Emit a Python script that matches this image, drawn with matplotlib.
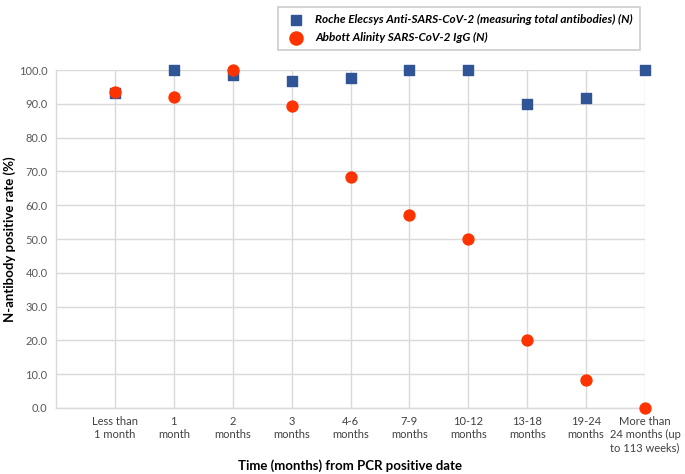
import matplotlib
matplotlib.use("Agg")
import matplotlib.pyplot as plt

categories = ["Less than\n1 month", "1\nmonth", "2\nmonths", "3\nmonths", "4-6\nmonths",
              "7-9\nmonths", "10-12\nmonths", "13-18\nmonths", "19-24\nmonths",
              "More than\n24 months (up\nto 113 weeks)"]
roche = [93.3, 100.0, 98.4, 96.6, 97.7, 100.0, 100.0, 90.0, 91.7, 100.0]
abbott = [93.5, 92.0, 100.0, 89.3, 68.2, 57.1, 50.0, 20.0, 8.3, 0.0]
yticks = [0, 10, 20, 30, 40, 50, 60, 70, 80, 90, 100]

plt.rcParams['font.family'] = ['Lato', 'DejaVu Sans']

W, H = 685, 474
fig = plt.figure(figsize=(W / 100, H / 100), dpi=100)
ax = fig.add_axes([56 / W, 1 - 408 / H, (645 - 56) / W, (408 - 70) / H])

x = list(range(1, len(categories) + 1))
ax.scatter(x, roche, marker='s', s=42, color='#2F5597', zorder=3, clip_on=False,
           label='Roche Elecsys Anti-SARS-CoV-2 (measuring total antibodies) (N)')
ax.scatter(x, abbott, marker='o', s=62, color='#FF3300', zorder=4, clip_on=False,
           label='Abbott Alinity SARS-CoV-2 IgG (N)')

ax.set_xlim(0, len(categories))
ax.set_ylim(0, 100)
ax.set_yticks(yticks)
ax.set_yticklabels([f"{v:.1f}" for v in yticks], color='#595959', fontsize=8)
ax.set_xticks(x)
ax.set_xticklabels(categories, color='#404040', fontsize=8)
ax.tick_params(axis='both', length=0, pad=6)
ax.grid(True, color='#D9D9D9', lw=1)
ax.set_axisbelow(True)
for s in ['top', 'right']:
    ax.spines[s].set_visible(False)
for s in ['left', 'bottom']:
    ax.spines[s].set_color('#D9D9D9')
    ax.spines[s].set_linewidth(1)

fig.text(10 / W, 1 - 239 / H, "N-antibody positive rate (%)", rotation=90,
         ha='center', va='center', fontsize=9.5, fontweight='bold')
fig.text(350 / W, 1 - 466 / H, "Time (months) from PCR positive date",
         ha='center', va='center', fontsize=9.5, fontweight='bold')

leg = fig.legend(loc='upper right', bbox_to_anchor=(646 / W, 1 - 1 / H),
                 prop={'style': 'italic', 'weight': 'bold', 'size': 8.5},
                 frameon=True, fancybox=False, edgecolor='#BFBFBF',
                 handletextpad=0.6, borderpad=0.6, labelspacing=0.6, markerscale=1.2)
leg.get_frame().set_linewidth(1.2)

fig.savefig("out.png", dpi=100)
